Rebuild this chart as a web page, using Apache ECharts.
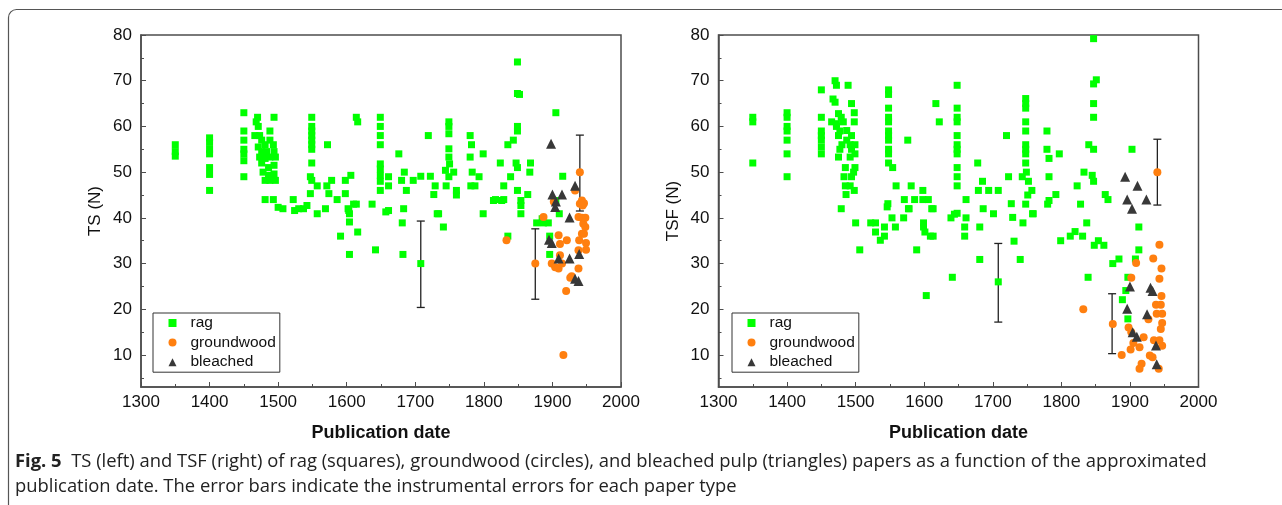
<!DOCTYPE html>
<html>
<head>
<meta charset="utf-8">
<script src="https://cdn.jsdelivr.net/npm/echarts@6/dist/echarts.min.js"></script>
<style>
  html, body { margin: 0; padding: 0; background: #fff; }
  #chartDom { width: 1282px; height: 505px; }
</style>
</head>
<body>
<div id="chartDom"></div>
<script>
// TS (left panel): [year, N]
var ragTS = [
  [1350,56],[1350,54.5],[1350,53.5],
  [1400,57.5],[1400,56.5],[1400,55],[1400,54],[1400,51],[1400,49.5],[1400,46],
  [1450,63],[1450,59],[1450,57],[1450,55],[1450,54],[1450,52.5],[1450,49],
  [1470,62],[1468,61],[1471,60],[1466,58],[1473,58],[1488,59],[1494,62],[1476,57],[1481,56],[1488,57],[1493,56],
  [1471,55.5],[1476,54.5],[1483,54.5],[1494,54.5],[1473,53.3],[1481,53],[1488,53.3],[1496,53.3],[1476,52],[1486,51],
  [1494,51.5],[1478,50],[1486,49.3],[1494,49.6],[1481,48.2],[1488,48.2],[1496,48.2],
  [1481,44],[1493,44],[1500,42.3],[1507,42],
  [1522,44],[1530,42],[1537,42],[1542,42.7],[1547,45.3],[1557,47],[1557,40.9],[1569,42],[1571,47],[1574,45.3],
  [1578,48.2],[1586,44],[1598,45.3],[1598,48.2],[1606,49.3],[1603,41.6],[1610,43],[1637,43],[1524,41.6],
  [1602,42],[1614,43],[1604,40.9],[1604,39.1],[1657,41.3],[1591,36],[1616,36.9],[1604,32],[1642,33],
  [1549,62],[1549,60],[1549,59],[1549,58],[1549,57],[1549,56],[1549,55],[1549,52],[1547,49],[1549,48.2],
  [1572,56],[1614,62],[1616,61],
  [1649,62],[1649,60],[1649,58],[1649,56],[1649,51.8],[1649,50.7],[1649,49.3],[1649,48],[1649,46],
  [1661,49],[1661,47],[1676,54],[1684,50],[1680,48.2],[1687,46],[1697,48.2],[1708,49.1],[1722,49.1],[1719,58],
  [1729,47],[1727,45.1],[1732,40.9],[1745,47],[1749,61],[1749,60],[1749,58.4],[1749,55.1],[1749,53.3],[1750,51.8],
  [1744,50.4],[1756,50],[1749,49],[1760,46],[1760,45],[1780,58],[1782,56],[1780,53.3],[1799,54],[1783,50],
  [1793,49],[1781,47],[1787,47],[1799,40.9],[1824,52],[1817,44],[1829,44],[1829,47],[1839,49],[1835,56],
  [1843,57],[1849,59],[1849,60],[1849,67.2],[1852,67],[1849,74.1],[1847,52],[1849,51],[1849,46],[1854,43.8],
  [1854,42.7],[1864,45.1],[1868,52],[1867,50],[1905,63],[1915,49.1],
  [1661,41.6],[1683,42],[1681,38.9],[1734,40.9],[1741,38],[1682,32],[1708,30],[1835,36],[1814,43.8],[1826,43.8],
  [1854,40.9],[1877,38.9],[1887,38.9],[1894,38.9],[1885,39.8],[1896,36],[1896,32],[1910,40.9],[1905,43.8]
];
var groundwoodTS = [
  [1833,35.1],[1875,30],[1887,40.2],[1909,36.2],[1911,34.3],[1899,30],[1904,29.2],[1909,28.9],[1914,30],[1911,31.8],
  [1921,35.1],[1920,24],[1916,10],[1926,26.9],[1928,27.2],[1938,28.9],[1938,32.9],[1939,35.1],[1943,36.5],[1945,38.7],
  [1948,38],[1943,40],[1948,40],[1949,34.5],[1949,33],[1946,36.5],[1940,43.1],[1945,43.1],[1940,50],[1933,46],
  [1943,43.8],[1946,43.2],[1944,42.7],[1938,40.2],[1902,43.5]
];
var bleachedTS = [
  [1898,56.2],[1900,45.1],[1914,45.1],[1933,47],[1905,43.6],[1904,42.4],[1925,40.1],[1895,35.2],[1899,34.5],
  [1909,31.1],[1925,31.1],[1939,32.1],[1933,26.7],[1938,26.2]
];
// TSF (right panel)
var ragTSF = [
  [1350,62],[1350,61],[1350,52],
  [1400,63],[1400,62],[1400,60],[1400,59],[1400,57],[1400,54],[1400,49],
  [1450,68],[1450,62],[1450,59],[1450,58],[1450,57],[1450,55.5],[1450,54],
  [1470,70],[1472,69],[1467,66],[1470,65.3],[1489,69],[1494,65],[1498,63],[1475,62.8],[1479,62],[1465,61],
  [1472,60.6],[1482,61],[1498,61],[1472,60],[1477,59],[1487,59.1],[1475,58],[1494,58],[1487,57],[1480,56],
  [1492,56],[1499,56],[1477,55],[1494,55],[1499,54],[1475,53.3],[1492,53.3],[1485,51],[1499,51],[1497,50],
  [1483,49],[1494,49],[1485,47],[1492,47],[1498,46],[1486,45.1],[1479,42],
  [1500,38.9],[1506,33],[1522,38.9],[1529,38.9],[1529,36.9],[1536,35.1],[1542,36],[1542,38],[1546,42.4],[1547,43.1],
  [1553,40],[1558,38],[1570,40],[1578,42],[1589,33],[1599,38.9],[1599,38],[1601,36.9],[1609,36],[1613,36],
  [1611,42],[1603,23],[1639,40],[1644,40.8],[1641,27],
  [1548,68],[1548,67],[1548,64],[1548,62],[1548,61],[1548,59],[1548,58],[1548,57],[1548,55],[1548,54],[1548,52],[1554,51],
  [1559,47],[1576,57],[1581,47],[1571,44],[1577,42],[1586,44],[1598,46],[1598,44],[1606,44],[1613,42],[1617,65],[1622,61],
  [1648,69],[1648,64],[1648,62],[1648,61],[1648,58],[1648,56],[1648,55],[1648,54],[1648,51],[1648,49],[1648,47],[1648,41],
  [1661,44],[1661,40],
  [1678,52],[1685,48],[1679,46],[1694,46],[1708,46],[1686,42],[1701,40.9],[1720,58],[1723,49],[1727,43.1],[1729,40.1],
  [1748,66.1],[1748,65],[1748,64],[1748,61],[1748,59],[1748,56],[1748,55],[1748,54],[1748,52],[1743,49],[1749,50],
  [1752,48],[1757,46],[1751,45],[1748,43],[1758,40.9],[1779,59],[1779,55],[1782,53],[1797,54],[1782,49],[1792,45.1],
  [1782,43.8],[1780,43],[1823,47],[1828,43],[1833,50],[1845,49.3],[1847,48],[1840,56],[1847,55],[1847,62],[1847,65],
  [1847,69.3],[1851,70.2],[1847,79.2],[1864,45.1],[1868,44],[1903,55],
  [1681,38],[1659,38],[1659,36],[1731,34.9],[1744,38.9],[1759,40.9],[1681,30.9],[1740,30.9],[1708,26],[1837,38.9],
  [1799,35],[1813,36],[1820,37],[1831,36],[1848,34],[1854,35],[1862,34],[1913,38],[1913,33],[1908,31],[1884,31],
  [1875,30],[1897,27],[1894,24.1],[1889,22.1],[1897,17.9],[1839,27]
];
var groundwoodTSF = [
  [1832,20],[1875,16.8],[1888,10],[1902,26.9],[1909,30.1],[1934,31.1],[1943,34.1],[1946,28.9],[1943,26.7],[1946,22.9],
  [1938,21],[1945,21],[1939,19],[1947,19],[1927,17.8],[1947,17],[1945,15.7],[1898,16],[1902,15],[1920,13.9],
  [1905,12.6],[1901,11.2],[1914,11.7],[1935,13.2],[1947,12],[1929,9.9],[1933,9.5],[1917,8.1],[1914,7],[1942,7],
  [1943,13.2],[1940,50]
];
var bleachedTSF = [
  [1893,49],[1911,47],[1896,44],[1924,44],[1903,42],[1900,25],[1930,24.7],[1933,24],[1896,20.1],[1925,18.9],
  [1904,15],[1910,14],[1938,12.1],[1939,8]
];
// instrumental error bars: [year, centre, low, high]
var errTS = [[1708,30,20.4,39.3],[1875,30,22.2,37.6],[1940,50,41.5,58.1]];
var errTSF = [[1708,26,17.2,34.4],[1874,16.9,10.3,23.4],[1940,50,42.8,57.2]];

var yMajor = [10, 20, 30, 40, 50, 60, 70, 80];
var yMinor = [5, 15, 25, 35, 45, 55, 65, 75];
var yNames = ['TS (N)', 'TSF (N)'];

var axisColor = '#4d4d4d';
var font = 'Liberation Sans';
var chartDom = echarts.init(document.getElementById('chartDom'));

function renderErr(params, api) {
    var x = api.value(0);
    var top = api.coord([x, api.value(3)]);
    var bot = api.coord([x, api.value(2)]);
    var st = { stroke: '#222', lineWidth: 1.3 };
    return {
        type: 'group',
        children: [
            { type: 'line', shape: { x1: top[0], y1: top[1], x2: bot[0], y2: bot[1] }, style: st },
            { type: 'line', shape: { x1: top[0] - 4, y1: top[1], x2: top[0] + 4, y2: top[1] }, style: st },
            { type: 'line', shape: { x1: bot[0] - 4, y1: bot[1], x2: bot[0] + 4, y2: bot[1] }, style: st }
        ]
    };
}

function plain(v) { return String(v); }

var grids = [], xAxes = [], yAxes = [], series = [], legends = [];
var panels = [
    { left: 141, legendLeft: 153, rag: ragTS, gw: groundwoodTS, bl: bleachedTS, err: errTS },
    { left: 718.5, legendLeft: 732, rag: ragTSF, gw: groundwoodTSF, bl: bleachedTSF, err: errTSF }
];
panels.forEach(function (p, i) {
    grids.push({
        left: p.left, top: 35, width: 480, height: 352,
        show: true, borderColor: axisColor, borderWidth: 1.5, backgroundColor: 'transparent'
    });
    xAxes.push({
        type: 'value', gridIndex: i, min: 1300, max: 2000, interval: 100,
        name: 'Publication date', nameLocation: 'middle', nameGap: 37,
        nameTextStyle: { fontFamily: font, fontSize: 18, fontWeight: 'bold', color: '#111' },
        axisLine: { lineStyle: { color: axisColor, width: 1.5 } },
        axisTick: { inside: true, length: 5, lineStyle: { color: axisColor } },
        minorTick: { show: true, splitNumber: 2, length: 3, lineStyle: { color: axisColor } },
        axisLabel: { fontFamily: font, fontSize: 17, color: '#111', margin: 7, formatter: plain },
        splitLine: { show: false }
    });
    yAxes.push({
        type: 'value', gridIndex: i, position: 'left', offset: 0, min: 3, max: 80,
        name: yNames[i], nameLocation: 'middle', nameGap: 37,
        nameTextStyle: { fontFamily: font, fontSize: 17, color: '#111' },
        axisLine: { show: true, lineStyle: { color: axisColor, width: 1.5 } },
        axisTick: { inside: true, length: 5, customValues: yMajor, lineStyle: { color: axisColor } },
        axisLabel: { fontFamily: font, fontSize: 17, color: '#111', margin: 9, customValues: yMajor, formatter: plain },
        splitLine: { show: false }
    });
    yAxes.push({
        type: 'value', gridIndex: i, position: 'left', offset: 0, min: 3, max: 80,
        axisLine: { show: false },
        axisTick: { inside: true, length: 3, customValues: yMinor, lineStyle: { color: axisColor } },
        axisLabel: { show: false },
        splitLine: { show: false }
    });
    var xi = i, yi = i * 2;
    series.push({
        type: 'custom', xAxisIndex: xi, yAxisIndex: yi, renderItem: renderErr,
        encode: { x: 0, y: [2, 3] }, data: p.err, z: 1, silent: true
    });
    series.push({
        name: 'rag', type: 'scatter', xAxisIndex: xi, yAxisIndex: yi, data: p.rag,
        symbol: 'rect', symbolSize: 7, itemStyle: { color: '#00ff00', opacity: 1 }, z: 2
    });
    series.push({
        name: 'groundwood', type: 'scatter', xAxisIndex: xi, yAxisIndex: yi, data: p.gw,
        symbol: 'circle', symbolSize: 8, itemStyle: { color: '#ff7f0f', opacity: 1 }, z: 3
    });
    series.push({
        name: 'bleached', type: 'scatter', xAxisIndex: xi, yAxisIndex: yi, data: p.bl,
        symbol: 'triangle', symbolSize: 10, itemStyle: { color: '#383838', opacity: 1 }, z: 4
    });
    legends.push({
        data: ['rag', 'groundwood', 'bleached'], orient: 'vertical',
        left: p.legendLeft, top: 313, itemWidth: 8, itemHeight: 8, itemGap: 3.6,
        padding: [2, 4, 2, 15.5], borderColor: '#333', borderWidth: 1,
        selectedMode: false,
        textStyle: { fontFamily: font, fontSize: 15.5, color: '#111', padding: [0, 0, 0, 9] }
    });
});

chartDom.setOption({
    animation: false,
    backgroundColor: '#fff',
    grid: grids,
    xAxis: xAxes,
    yAxis: yAxes,
    legend: legends,
    series: series,
    graphic: [
        {
            type: 'rect', shape: { x: 8.5, y: 9.5, width: 1300, height: 520, r: 8 },
            style: { fill: 'none', stroke: '#555', lineWidth: 1.2 }, silent: true
        },
        {
            type: 'text', left: 15, top: 449,
            style: {
                text: '{b|Fig. 5}  TS (left) and TSF (right) of rag (squares), groundwood (circles), and bleached pulp (triangles) papers as a function of the approximated\npublication date. The error bars indicate the instrumental errors for each paper type',
                fontFamily: 'Open Sans', fontSize: 18.4, lineHeight: 25, fill: '#222',
                rich: { b: { fontFamily: 'Open Sans', fontSize: 18.4, fontWeight: 'bold', fill: '#222' } }
            }
        }
    ]
});
</script>
</body>
</html>
